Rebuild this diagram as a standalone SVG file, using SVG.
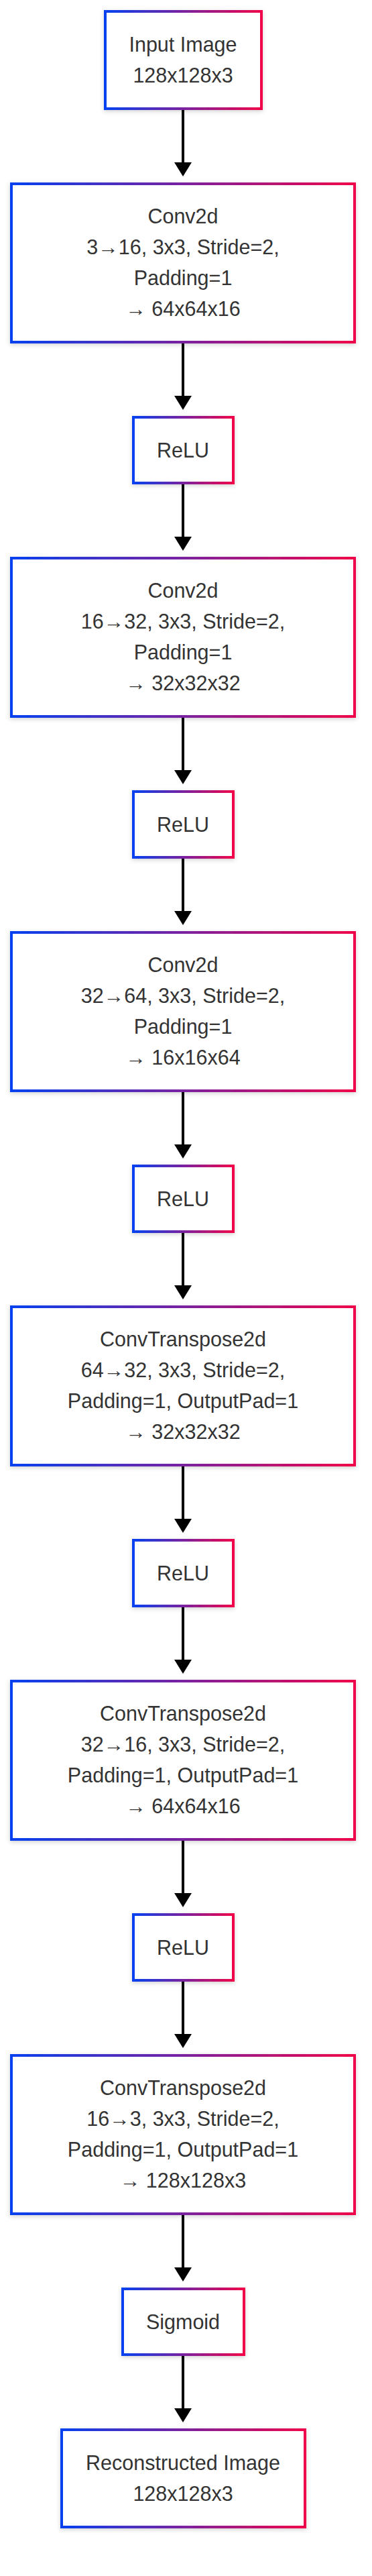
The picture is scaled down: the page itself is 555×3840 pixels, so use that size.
<svg xmlns="http://www.w3.org/2000/svg" width="555" height="3840" viewBox="0 0 555 3840">
<defs>
<linearGradient id="g" x1="0" y1="0" x2="1" y2="0">
<stop offset="0" stop-color="#0541f0"/>
<stop offset="0.5" stop-color="#7a22a0"/>
<stop offset="1" stop-color="#f0054a"/>
</linearGradient>
<filter id="sh" x="-10%" y="-10%" width="120%" height="130%">
<feDropShadow dx="0" dy="2" stdDeviation="3" flood-color="#000" flood-opacity="0.18"/>
</filter>
<marker id="ah" viewBox="0 0 21 26" refX="17" refY="13" markerWidth="21" markerHeight="26" markerUnits="userSpaceOnUse" orient="auto">
<path d="M0,0 L21,13 L0,26 Z" fill="#000"/>
</marker>
</defs>
<style>
.box{fill:#fff;stroke:url(#g);stroke-width:4;filter:url(#sh)}
.t{font-family:"Liberation Sans",Arial,Helvetica,sans-serif;font-size:30.5px;fill:#333;text-anchor:middle}
.c{stroke:#000;stroke-width:4;fill:none;marker-end:url(#ah)}
</style>
<rect width="555" height="3840" fill="#fff"/>
<g id="connectors">
<line class="c" x1="273" y1="164" x2="273" y2="259"/>
<line class="c" x1="273" y1="512" x2="273" y2="607"/>
<line class="c" x1="273" y1="722" x2="273" y2="817"/>
<line class="c" x1="273" y1="1070" x2="273" y2="1165"/>
<line class="c" x1="273" y1="1280" x2="273" y2="1375"/>
<line class="c" x1="273" y1="1628" x2="273" y2="1723"/>
<line class="c" x1="273" y1="1838" x2="273" y2="1933"/>
<line class="c" x1="273" y1="2186" x2="273" y2="2281"/>
<line class="c" x1="273" y1="2396" x2="273" y2="2491"/>
<line class="c" x1="273" y1="2744" x2="273" y2="2839"/>
<line class="c" x1="273" y1="2954" x2="273" y2="3049"/>
<line class="c" x1="273" y1="3302" x2="273" y2="3397"/>
<line class="c" x1="273" y1="3512" x2="273" y2="3607"/>
</g>
<g id="input">
<rect class="box" x="157" y="17" width="233" height="145"/>
<text class="t" x="273" y="77">Input Image</text>
<text class="t" x="273" y="123">128x128x3</text>
</g>
<g id="conv1">
<rect class="box" x="17" y="274" width="512" height="236"/>
<text class="t" x="273" y="333">Conv2d</text>
<text class="t" x="273" y="379">3→16, 3x3, Stride=2,</text>
<text class="t" x="273" y="425">Padding=1</text>
<text class="t" x="273" y="471">→ 64x64x16</text>
</g>
<g id="relu1">
<rect class="box" x="199" y="622" width="149" height="98"/>
<text class="t" x="273" y="682">ReLU</text>
</g>
<g id="conv2">
<rect class="box" x="17" y="832" width="512" height="236"/>
<text class="t" x="273" y="891">Conv2d</text>
<text class="t" x="273" y="937">16→32, 3x3, Stride=2,</text>
<text class="t" x="273" y="983">Padding=1</text>
<text class="t" x="273" y="1029">→ 32x32x32</text>
</g>
<g id="relu2">
<rect class="box" x="199" y="1180" width="149" height="98"/>
<text class="t" x="273" y="1240">ReLU</text>
</g>
<g id="conv3">
<rect class="box" x="17" y="1390" width="512" height="236"/>
<text class="t" x="273" y="1449">Conv2d</text>
<text class="t" x="273" y="1495">32→64, 3x3, Stride=2,</text>
<text class="t" x="273" y="1541">Padding=1</text>
<text class="t" x="273" y="1587">→ 16x16x64</text>
</g>
<g id="relu3">
<rect class="box" x="199" y="1738" width="149" height="98"/>
<text class="t" x="273" y="1798">ReLU</text>
</g>
<g id="convt1">
<rect class="box" x="17" y="1948" width="512" height="236"/>
<text class="t" x="273" y="2007">ConvTranspose2d</text>
<text class="t" x="273" y="2053">64→32, 3x3, Stride=2,</text>
<text class="t" x="273" y="2099">Padding=1, OutputPad=1</text>
<text class="t" x="273" y="2145">→ 32x32x32</text>
</g>
<g id="relu4">
<rect class="box" x="199" y="2296" width="149" height="98"/>
<text class="t" x="273" y="2356">ReLU</text>
</g>
<g id="convt2">
<rect class="box" x="17" y="2506" width="512" height="236"/>
<text class="t" x="273" y="2565">ConvTranspose2d</text>
<text class="t" x="273" y="2611">32→16, 3x3, Stride=2,</text>
<text class="t" x="273" y="2657">Padding=1, OutputPad=1</text>
<text class="t" x="273" y="2703">→ 64x64x16</text>
</g>
<g id="relu5">
<rect class="box" x="199" y="2854" width="149" height="98"/>
<text class="t" x="273" y="2914">ReLU</text>
</g>
<g id="convt3">
<rect class="box" x="17" y="3064" width="512" height="236"/>
<text class="t" x="273" y="3123">ConvTranspose2d</text>
<text class="t" x="273" y="3169">16→3, 3x3, Stride=2,</text>
<text class="t" x="273" y="3215">Padding=1, OutputPad=1</text>
<text class="t" x="273" y="3261">→ 128x128x3</text>
</g>
<g id="sigmoid">
<rect class="box" x="183" y="3412" width="181" height="98"/>
<text class="t" x="273" y="3472">Sigmoid</text>
</g>
<g id="output">
<rect class="box" x="92" y="3622" width="363" height="145"/>
<text class="t" x="273" y="3682">Reconstructed Image</text>
<text class="t" x="273" y="3728">128x128x3</text>
</g>
</svg>
